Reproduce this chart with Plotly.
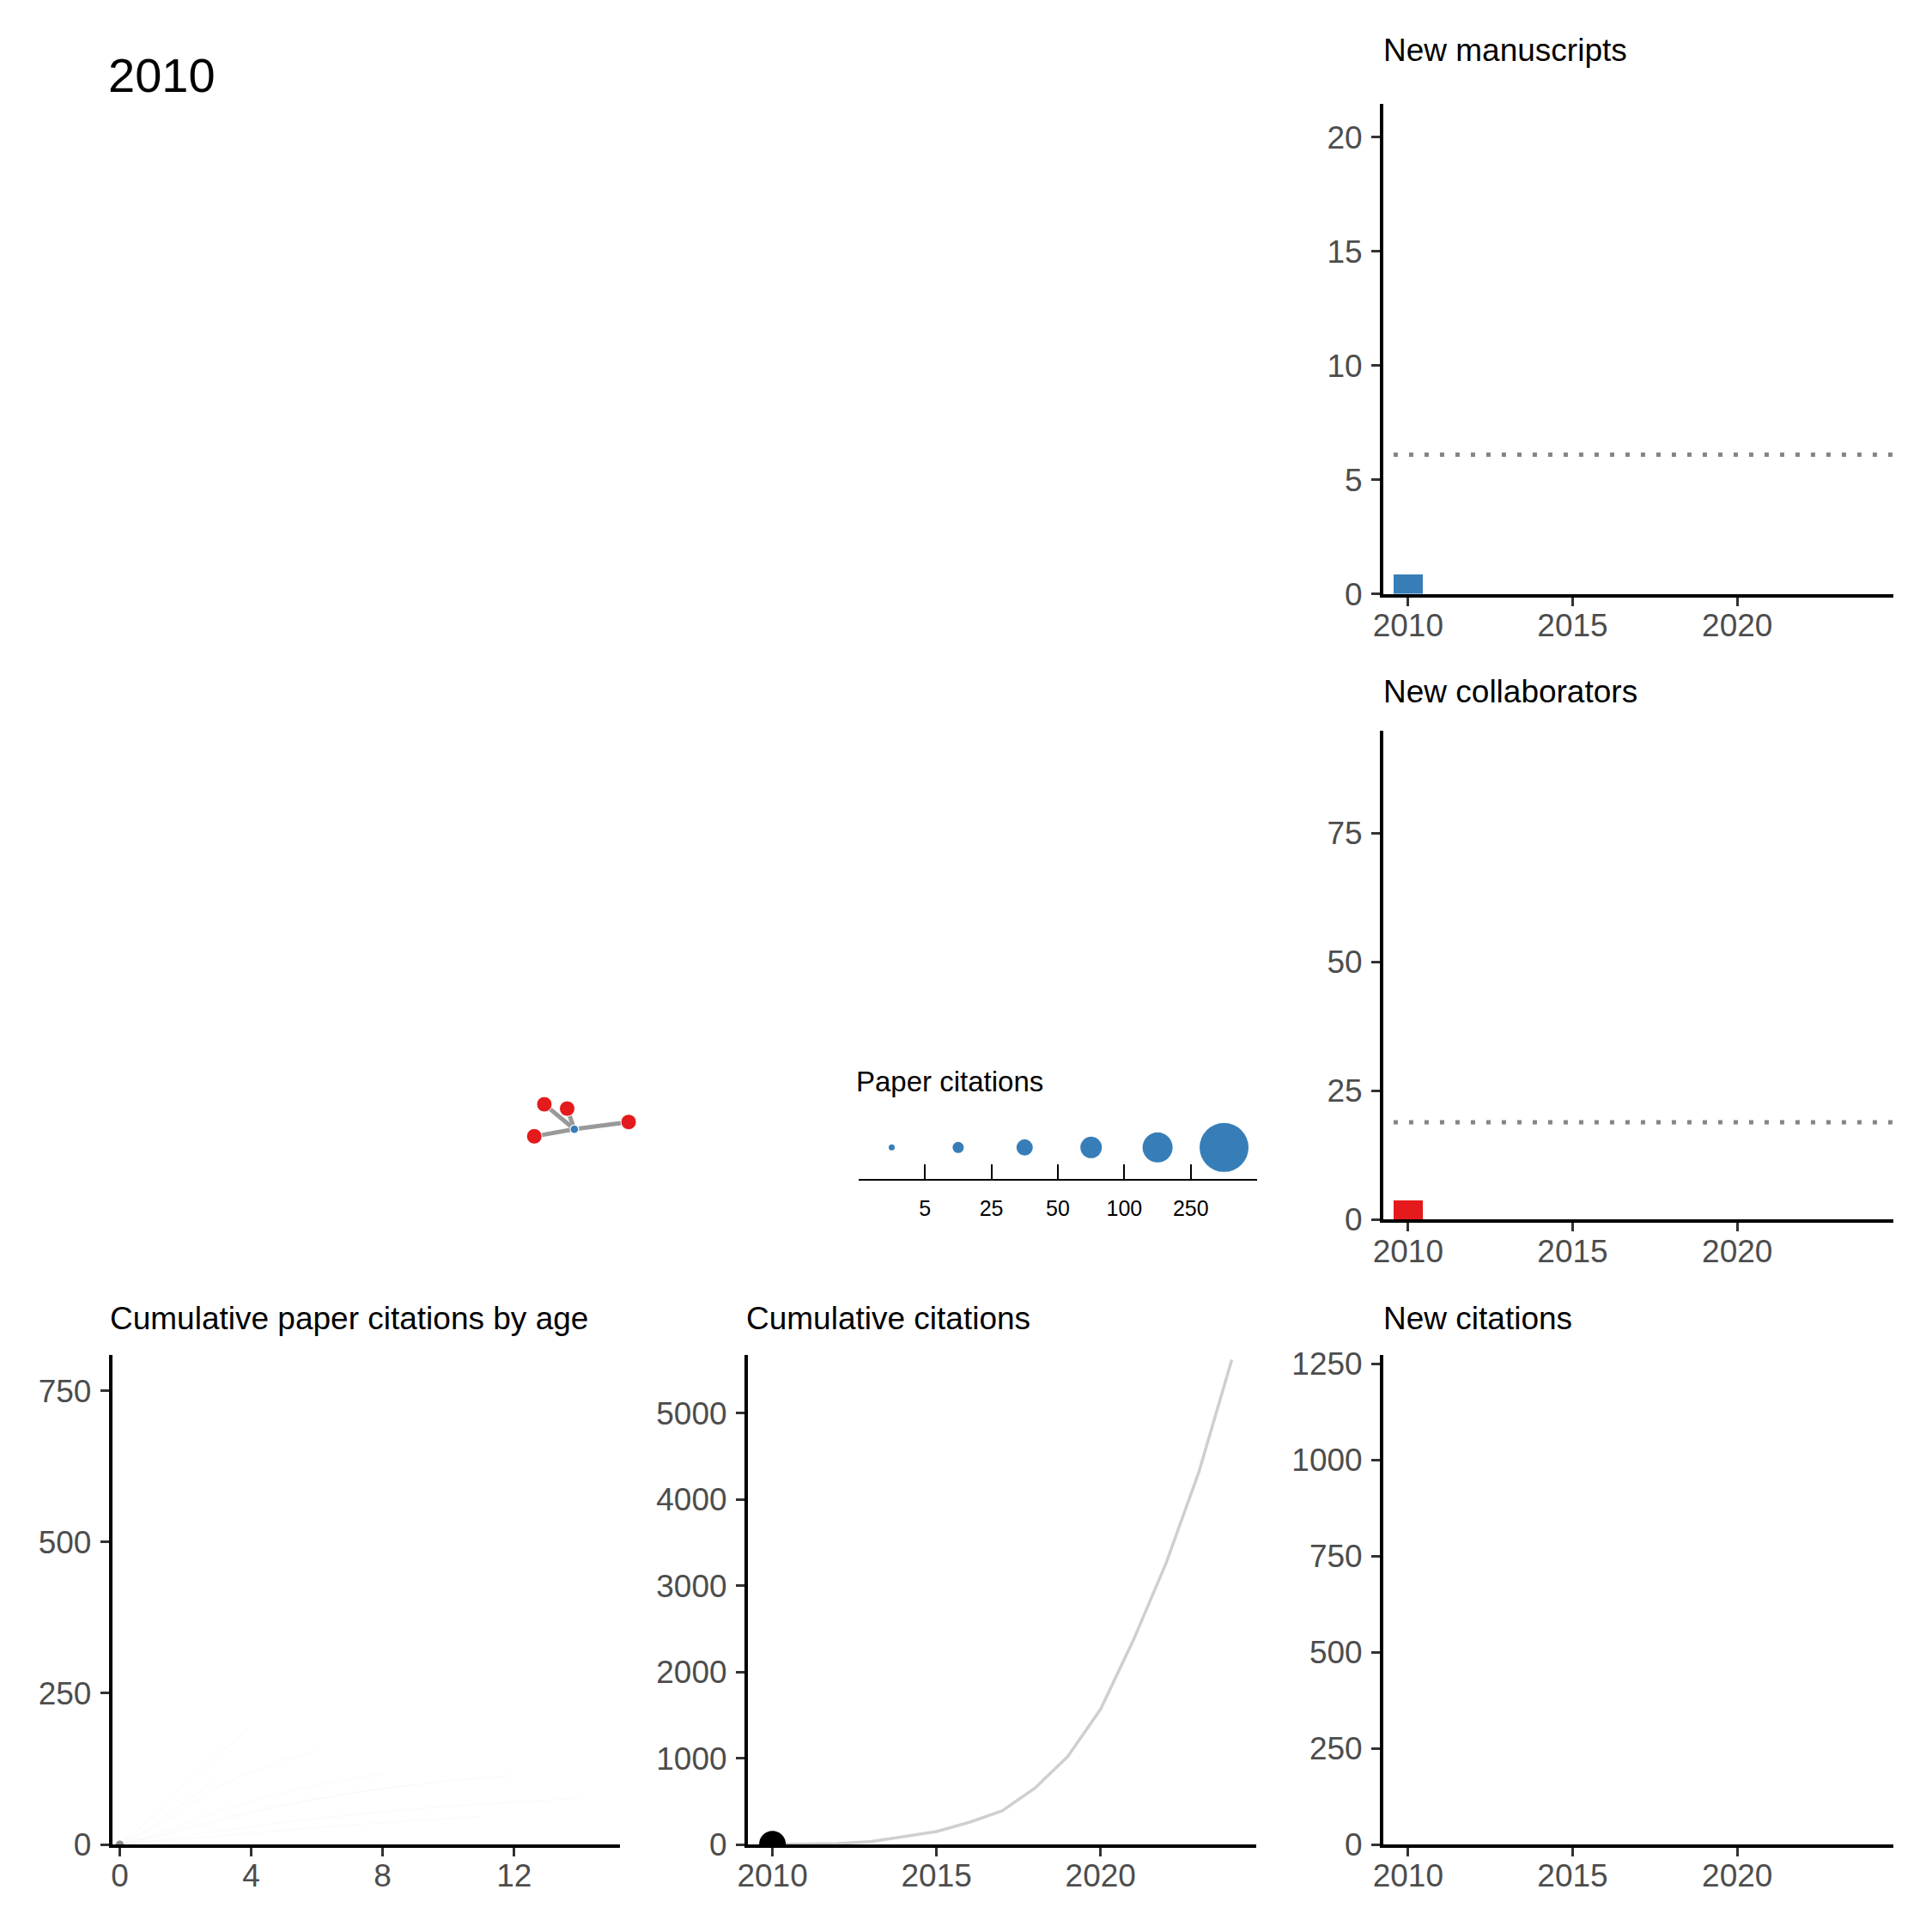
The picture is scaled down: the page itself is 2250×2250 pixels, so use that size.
import plotly.graph_objects as go

FIG = 2234
OFF = 8
FONT = "Liberation Sans"
BLUE = "#377EB8"
RED = "#E41A1C"

# ---------------- data ----------------
frame_year = "2010"

bar_years = [2010]
new_manuscripts = [0.87]
mean_manuscripts = 6.1
new_collaborators = [3.84]
mean_collaborators = 18.9
new_citations = [0]

cum_years = [2010, 2011, 2012, 2013, 2014, 2015, 2016, 2017, 2018, 2019, 2020, 2021, 2022, 2023, 2024]
cum_citations = [0, 2, 10, 33, 95, 150, 257, 390, 653, 1020, 1568, 2369, 3265, 4323, 5620]
current_year = [2010]
current_cum = [3]

paper_ages = [
    [0, 1, 2, 3, 4],
    [0, 1, 2, 3, 4, 5, 6],
    [0, 1, 2, 3, 4, 5, 6, 7, 8, 9, 10, 11, 12],
    [0, 1, 2, 3, 4, 5, 6, 7, 8, 9, 10, 11, 12, 13, 14],
    [0, 1, 2, 3, 4, 5, 6, 7, 8, 9],
    [0, 1, 2, 3, 4, 5, 6, 7, 8, 9, 10, 11],
    [0, 1, 2, 3],
    [0, 1, 2, 3, 4, 5, 6, 7, 8],
]
paper_citations = [
    [0, 45, 100, 150, 195],
    [0, 25, 60, 95, 120, 140, 155],
    [0, 12, 28, 42, 55, 66, 76, 85, 92, 99, 105, 110, 114],
    [0, 6, 14, 22, 30, 37, 43, 49, 54, 59, 63, 67, 70, 73, 76],
    [0, 10, 24, 38, 52, 64, 75, 84, 92, 100],
    [0, 4, 9, 14, 19, 24, 28, 32, 36, 40, 43, 46],
    [0, 30, 70, 110],
    [0, 15, 35, 55, 72, 86, 98, 108, 116],
]
current_paper_age = [0]
current_paper_cites = [0]

# network layout (layout units, paper node at origin)
node_x = [0.0, -35.0, -8.4, -46.7, 63.3]
node_y = [0.0, 29.0, 24.0, -8.3, 8.4]
node_kind = ["paper", "collaborator", "collaborator", "collaborator", "collaborator"]
edges = [(0, 1), (0, 2), (0, 3), (0, 4)]

legend_bins = [0, 1, 2, 3, 4, 5]
legend_sizes = [7, 13, 19, 25, 35, 57]
legend_tick_pos = [0.5, 1.5, 2.5, 3.5, 4.5]
legend_tick_labels = ["5", "25", "50", "100", "250"]


# ---------------- layout helpers (pixel calibration) ----------------
KX = 0.6962 / 0.6933
KY = 0.6963 / 0.6869


def sx(t):
    return (0.6962 * t - 6.3) / 0.6933


def sy(t):
    return (0.75 + 0.6963 * t - 7.9) / 0.6869


def dom_x(left, right):
    return [(sx(left) - OFF) / FIG, (sx(right) - OFF) / FIG]


def dom_y(top, bottom):
    return [1 - (sy(bottom) - OFF) / FIG, 1 - (sy(top) - OFF) / FIG]


def axis_style(is_x, **kw):
    d = dict(
        showline=True, linecolor="black", linewidth=4, mirror=False,
        showgrid=False, zeroline=False, ticks="outside", ticklen=10,
        tickwidth=3, tickcolor="#333333",
        tickfont=dict(family=FONT, size=37, color="#4D4D4D"),
        fixedrange=True,
        ticklabelstandoff=-9 if is_x else 3,
    )
    d.update(kw)
    return d


fig = go.Figure()

fig.add_trace(go.Bar(x=bar_years, y=new_manuscripts, width=0.9, marker_color=BLUE,
                     marker_line_width=0, xaxis="x", yaxis="y"))
fig.add_trace(go.Bar(x=bar_years, y=new_collaborators, width=0.9, marker_color=RED,
                     marker_line_width=0, xaxis="x2", yaxis="y2"))
fig.add_trace(go.Bar(x=bar_years, y=new_citations, width=0.9, marker_color=BLUE,
                     marker_line_width=0, xaxis="x3", yaxis="y3"))
fig.add_trace(go.Scatter(x=cum_years, y=cum_citations, mode="lines",
                         line=dict(color="#CFCFCF", width=3.5), xaxis="x4", yaxis="y4"))
fig.add_trace(go.Scatter(x=current_year, y=current_cum, mode="markers",
                         marker=dict(color="black", size=31, opacity=1), cliponaxis=True,
                         xaxis="x4", yaxis="y4"))
for ages, cites in zip(paper_ages, paper_citations):
    fig.add_trace(go.Scatter(x=ages, y=cites, mode="lines",
                             line=dict(color="rgba(190,190,190,0.05)", width=2),
                             xaxis="x5", yaxis="y5"))
fig.add_trace(go.Scatter(x=current_paper_age, y=current_paper_cites, mode="markers",
                         marker=dict(color="#8A8A8A", size=9, opacity=1), cliponaxis=True,
                         xaxis="x5", yaxis="y5"))

ex, ey = [], []
for a, b in edges:
    ex += [node_x[a], node_x[b], None]
    ey += [node_y[a], node_y[b], None]
fig.add_trace(go.Scatter(x=ex, y=ey, mode="lines", line=dict(color="#999999", width=5),
                         xaxis="x6", yaxis="y6", cliponaxis=False))
cx = [x for x, k in zip(node_x, node_kind) if k == "collaborator"]
cy = [y for y, k in zip(node_y, node_kind) if k == "collaborator"]
px_ = [x for x, k in zip(node_x, node_kind) if k == "paper"]
py_ = [y for y, k in zip(node_y, node_kind) if k == "paper"]
fig.add_trace(go.Scatter(x=cx, y=cy, mode="markers",
                         marker=dict(color=RED, size=18, opacity=1, line=dict(color="white", width=1)),
                         xaxis="x6", yaxis="y6", cliponaxis=False))
fig.add_trace(go.Scatter(x=px_, y=py_, mode="markers",
                         marker=dict(color=BLUE, size=10, opacity=1, line=dict(color="white", width=1.2)),
                         xaxis="x6", yaxis="y6", cliponaxis=False))

fig.add_trace(go.Scatter(x=legend_bins, y=[0.468] * len(legend_bins), mode="markers",
                         marker=dict(color=BLUE, size=legend_sizes, opacity=1, line_width=0),
                         xaxis="x7", yaxis="y7", cliponaxis=False))

year_range = [2009.25, 2024.75]
year_ticks = [2010, 2015, 2020]
RX = (1610, 2205)
MX = (869, 1462)
LX = (128, 720)
BOT = (1579, 2149)

# network axis: paper node sits at true pixel (666.7, 1315.7)
bx, by = sx(666.7), sy(1315.7)
net_xr = [(OFF - bx) / KX, (OFF + FIG - bx) / KX]
net_yr = [(by - OFF - FIG) / KY, (by - OFF) / KY]

layout = dict(
    width=FIG, height=FIG, margin=dict(l=0, r=0, t=0, b=0),
    paper_bgcolor="white", plot_bgcolor="rgba(0,0,0,0)",
    showlegend=False, bargap=0,
    font=dict(family=FONT, color="black"),
    xaxis=axis_style(True, domain=dom_x(*RX), range=year_range, tickvals=year_ticks, anchor="y"),
    yaxis=axis_style(False, domain=dom_y(121, 692), range=[0, 21.47], tickvals=[0, 5, 10, 15, 20], anchor="x"),
    xaxis2=axis_style(True, domain=dom_x(*RX), range=year_range, tickvals=year_ticks, anchor="y2"),
    yaxis2=axis_style(False, domain=dom_y(851, 1421), range=[0, 95], tickvals=[0, 25, 50, 75], anchor="x2"),
    xaxis3=axis_style(True, domain=dom_x(*RX), range=year_range, tickvals=year_ticks, anchor="y3"),
    yaxis3=axis_style(False, domain=dom_y(*BOT), range=[0, 1273], tickvals=[0, 250, 500, 750, 1000, 1250], anchor="x3"),
    xaxis4=axis_style(True, domain=dom_x(*MX), range=year_range, tickvals=year_ticks, anchor="y4"),
    yaxis4=axis_style(False, domain=dom_y(*BOT), range=[0, 5673], tickvals=[0, 1000, 2000, 3000, 4000, 5000], anchor="x4"),
    xaxis5=axis_style(True, domain=dom_x(*LX), range=[-0.225, 15.225], tickvals=[0, 4, 8, 12], anchor="y5"),
    yaxis5=axis_style(False, domain=dom_y(*BOT), range=[0, 809], tickvals=[0, 250, 500, 750], anchor="x5"),
    xaxis6=dict(domain=[0, 1], range=net_xr, visible=False, anchor="y6", fixedrange=True),
    yaxis6=dict(domain=[0, 1], range=net_yr, visible=False, anchor="x6", fixedrange=True),
    xaxis7=dict(domain=dom_x(998, 1463), range=[-0.5, 5.5], anchor="y7",
                showline=True, linecolor="black", linewidth=2, showgrid=False, zeroline=False,
                ticks="inside", ticklen=17, tickwidth=2, tickcolor="black",
                tickvals=legend_tick_pos, ticktext=legend_tick_labels,
                tickfont=dict(family=FONT, size=25, color="black"), ticklabelstandoff=11,
                fixedrange=True),
    yaxis7=dict(domain=dom_y(1295, 1374), range=[0, 1], visible=False, anchor="x7", fixedrange=True),
)
fig.update_layout(**layout)

fig.add_shape(type="line", xref="x domain", yref="y", x0=0.02, x1=1, y0=mean_manuscripts, y1=mean_manuscripts,
              line=dict(color="#858585", width=5, dash="5px,13px"))
fig.add_shape(type="line", xref="x2 domain", yref="y2", x0=0.02, x1=1, y0=mean_collaborators, y1=mean_collaborators,
              line=dict(color="#858585", width=5, dash="5px,13px"))


def title(text, xpx, ypx, size=37):
    fig.add_annotation(text=text, x=(sx(xpx) - 5 - OFF) / FIG, y=1 - (sy(ypx) - OFF) / FIG,
                       xref="paper", yref="paper",
                       xanchor="left", yanchor="middle", showarrow=False,
                       font=dict(family=FONT, size=size, color="black"))


title(frame_year, 126.4, 88, size=56)
title("New manuscripts", 1613, 59)
title("New collaborators", 1613, 806)
title("Cumulative paper citations by age", 128, 1536)
title("Cumulative citations", 870.4, 1536)
title("New citations", 1613, 1536)
title("Paper citations", 998.3, 1260, size=33)

fig.write_html("out.html")
